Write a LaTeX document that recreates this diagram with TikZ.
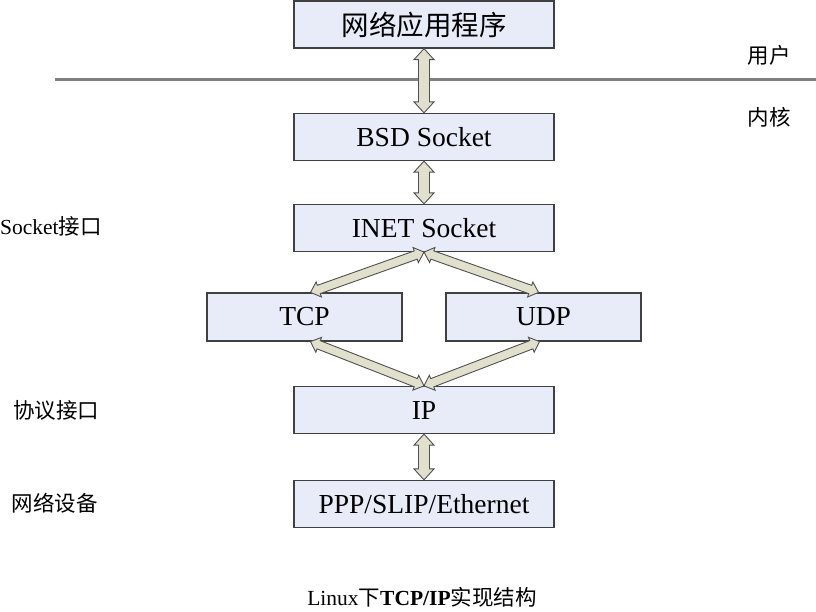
\documentclass[tikz,border=0pt]{standalone}
\usepackage{fontspec}
\setmainfont{Liberation Serif}
\newfontfamily\cjk{Noto Sans CJK SC}
\usetikzlibrary{calc}
\definecolor{BoxFill}{RGB}{232,236,248}
\definecolor{BoxLine}{RGB}{64,64,64}
\definecolor{ArrowFill}{RGB}{224,224,204}
\definecolor{ArrowLine}{RGB}{80,80,80}
\definecolor{SepGray}{RGB}{128,128,128}

\tikzset{
  layer/.style={draw=BoxLine, fill=BoxFill, line width=1.2pt, minimum width=260pt,
    minimum height=47pt, inner sep=0pt, font=\fontsize{27.5}{27.5}\selectfont},
  proto/.style={layer, minimum width=195pt, minimum height=48pt},
  side/.style={inner sep=0pt, font=\fontsize{21.5}{21.5}\selectfont},
  blockarrow/.style={draw=ArrowLine, fill=ArrowFill, line width=0.9pt, line join=miter}
}

% double headed block arrow, #1 = size factor
\newcommand{\dblarrow}[3][1]{%
  \draw[blockarrow] let \p1=($(#3)-(#2)$), \n1={atan2(\y1,\x1)}, \n2={veclen(\x1,\y1)} in
    [shift={(#2)}, rotate=\n1]
    (0pt,0pt) -- ({11pt*#1},{10pt*#1}) -- ({11pt*#1},{5.5pt*#1})
    -- ({\n2*1pt-11pt*#1},{5.5pt*#1}) -- ({\n2*1pt-11pt*#1},{10pt*#1}) -- ({\n2*1pt},0pt)
    -- ({\n2*1pt-11pt*#1},{-10pt*#1}) -- ({\n2*1pt-11pt*#1},{-5.5pt*#1})
    -- ({11pt*#1},{-5.5pt*#1}) -- ({11pt*#1},{-10pt*#1}) -- cycle;}

\begin{document}
\begin{tikzpicture}[x=1pt, y=-1pt]
    \useasboundingbox (0,0) rectangle (816,612);

    % user / kernel border
    \draw[SepGray, line width=3pt] (55,80) -- (816,80);
    \node[side] (user) at (769,55) {\cjk 用户};
    \node[side] (kernel) at (769,117) {\cjk 内核};

    % layers
    \node[layer] (app) at (424,24.5) {\cjk 网络应用程序};
    \node[layer] (bsd) at (424,137) {BSD Socket};
    \node[layer] (inet) at (424,228) {INET Socket};
    \node[proto] (tcp) at (304.5,317) {TCP};
    \node[proto] (udp) at (543.5,317) {UDP};
    \node[layer] (ip) at (424,410) {IP};
    \node[layer] (ppp) at (424,504) {PPP/SLIP/Ethernet};

    % side labels
    \node[side, anchor=west] (sockif) at (0,226) {Socket{\cjk 接口}};
    \node[side] (protoif) at (56,410) {\cjk 协议接口};
    \node[side] (netdev) at (55,503) {\cjk 网络设备};

    % arrow ends on the protocol boxes
    \coordinate (tcpN) at ([xshift=6pt]tcp.north);
    \coordinate (tcpS) at ([xshift=6pt]tcp.south);
    \coordinate (udpN) at ([xshift=-5pt]udp.north);
    \coordinate (udpS) at ([xshift=-4pt]udp.south);

    % arrows
    \dblarrow{app.south}{bsd.north}
    \dblarrow{bsd.south}{inet.north}
    \dblarrow[0.8]{inet.south}{tcpN}
    \dblarrow[0.8]{inet.south}{udpN}
    \dblarrow[0.8]{tcpS}{ip.north}
    \dblarrow[0.8]{udpS}{ip.north}
    \dblarrow{ip.south}{ppp.north}

    % caption
    \node[side] (caption) at (422,597) {Linux{\cjk 下}\textbf{TCP/IP}{\cjk 实现结构}};
\end{tikzpicture}
\end{document}
